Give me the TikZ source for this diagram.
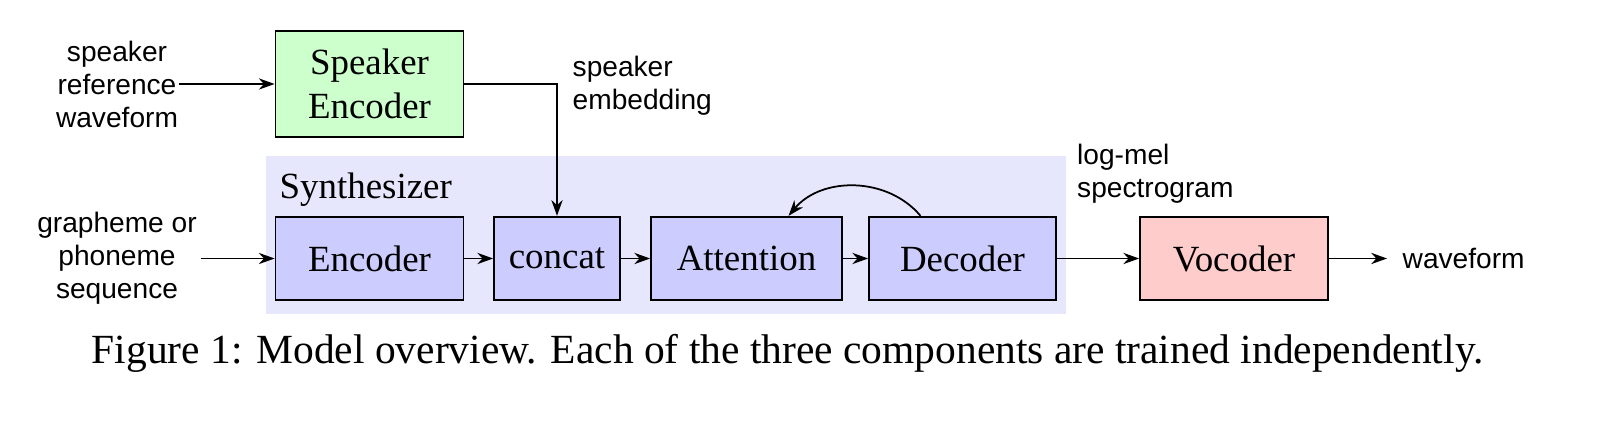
\documentclass[tikz,border=0pt]{standalone}
\usepackage{fontspec}
\setmainfont{Liberation Serif}
\setsansfont{Liberation Sans}
\usepackage{xcolor}
\definecolor{spkgreen}{RGB}{204,255,204}
\definecolor{synblue}{RGB}{204,204,255}
\definecolor{synbg}{RGB}{230,230,252}
\definecolor{vocred}{RGB}{255,204,204}
\usetikzlibrary{arrows.meta,positioning}

\begin{document}
\begin{tikzpicture}[
  block/.style={
    rectangle,
    minimum width=1.88cm, minimum height=0.835cm,
    draw=black, line width=0.5pt,
    fill=synblue,
    font=\fontsize{10.5}{12.6}\selectfont,
    align=center, inner sep=0pt
  },
  synthbox/.style={rectangle, fill=synbg, draw=none,
    minimum width=8cm, minimum height=1.58cm},
  iolbl/.style={font=\sffamily\fontsize{8}{9.4}\selectfont, align=center, inner sep=0pt},
  conn/.style={-{Stealth[length=4.5pt,width=3.2pt]}, line width=0.5pt}
]
\useasboundingbox (0,0) rectangle (16,-4.34);

% synthesizer background
\node[synthbox] (synth) at (6.66,-2.35) {};
\node[font=\fontsize{10.5}{12.6}\selectfont, anchor=west, inner sep=0pt] (synlbl) at (2.79,-1.90) {Synthesizer};

\node[block, fill=spkgreen, minimum height=1.06cm] (spkenc) at (3.695,-0.84) {Speaker\\Encoder};
\node[block] (enc)    at (3.695,-2.585) {Encoder};
\node[block, minimum width=1.26cm] (concat) at (5.57,-2.585) {concat};
\node[block, minimum width=1.91cm] (attn)   at (7.465,-2.585) {Attention};
\node[block, minimum width=1.87cm] (dec)    at (9.625,-2.585) {Decoder};
\node[block, fill=vocred] (voc) at (12.34,-2.585) {Vocoder};

\node[iolbl] (spkref) at (1.17,-0.84) {speaker\\reference\\waveform};
\node[iolbl, inner sep=1pt] (graph) at (1.17,-2.585) {grapheme or\\phoneme\\sequence};
\node[iolbl, align=left, anchor=west] (spkemb) at (5.72,-0.86) {speaker\\embedding};
\node[iolbl, align=left, anchor=west] (logmel) at (10.765,-1.74) {log-mel\\spectrogram};
\node[iolbl, anchor=west, inner sep=1.5mm] (wave) at (13.87,-2.585) {waveform};

\draw[conn] (spkref) -- (spkenc);
\draw[conn] (spkenc.east) -| (concat.north);
\draw[conn] (graph) -- (enc);
\draw[conn] (enc) -- (concat);
\draw[conn] (concat) -- (attn);
\draw[conn] (attn) -- (dec);
\draw[conn] ([xshift=-0.42cm]dec.north) to[bend right=50] ([xshift=0.42cm]attn.north);
\draw[conn] (dec) -- (voc);
\draw[conn] (voc) -- (wave);

\node[font=\fontsize{11.8}{14}\selectfont, inner sep=0pt] (caption) at (7.875,-3.53)
  {Figure 1: Model overview. Each of the three components are trained independently.};
\end{tikzpicture}
\end{document}
